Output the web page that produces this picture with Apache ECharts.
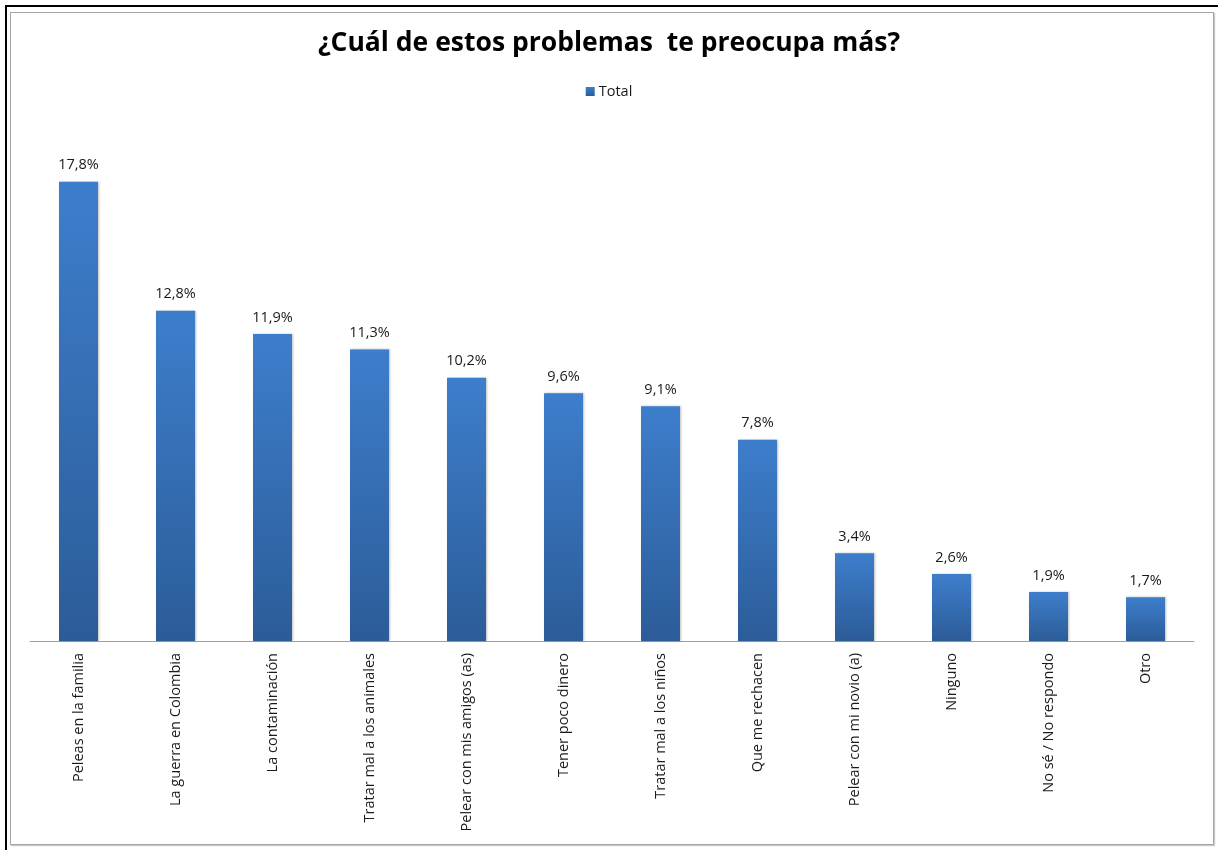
<!DOCTYPE html>
<html>
<head>
<meta charset="utf-8">
<script src="https://cdn.jsdelivr.net/npm/echarts@6/dist/echarts.min.js"></script>
<style>
html,body{margin:0;padding:0;background:#fff;}
#frame{position:absolute;left:5px;top:5px;width:1213px;height:845px;border-left:2px solid #000;border-top:2px solid #000;box-sizing:border-box;}
#inner{position:absolute;left:10px;top:12px;width:1204px;height:833px;border:1px solid #a6a6a6;box-sizing:border-box;box-shadow:1px 1px 1px #c8c8c8;}
#chart{position:absolute;left:0;top:0;width:1218px;height:850px;}
</style>
</head>
<body>
<div id="frame"></div>
<div id="inner"></div>
<div id="chart"></div>
<script>
const titleText = '¿Cuál de estos problemas  te preocupa más?';
const seriesName = 'Total';
const categories = [
  'Peleas en la familia',
  'La guerra en Colombia',
  'La contaminación',
  'Tratar mal a los animales',
  'Pelear con mis amigos (as)',
  'Tener poco dinero',
  'Tratar mal a los niños',
  'Que me rechacen',
  'Pelear con mi novio (a)',
  'Ninguno',
  'No sé / No respondo',
  'Otro'
];
const values = [17.8, 12.8, 11.9, 11.3, 10.2, 9.6, 9.1, 7.8, 3.4, 2.6, 1.9, 1.7];

const chart = echarts.init(document.getElementById('chart'), null, {renderer: 'canvas'});
const font = '"Open Sans", "Noto Sans", sans-serif';
chart.setOption({
  backgroundColor: 'transparent',
  animation: false,
  title: {
    text: titleText,
    left: 'center',
    top: 25,
    textStyle: {fontFamily: font, fontWeight: 'bold', fontSize: 26.5, color: '#000'}
  },
  legend: {
    data: [seriesName],
    top: 79,
    left: 'center',
    itemWidth: 9,
    itemHeight: 9,
    itemGap: 4,
    icon: 'rect',
    textStyle: {fontFamily: font, fontSize: 14.5, color: '#1a1a1a', padding: [0,0,0,-1]}
  },
  grid: {left: 30, right: 24, top: 125, bottom: 209, containLabel: false},
  xAxis: {
    type: 'category',
    data: categories,
    axisLine: {show: true, lineStyle: {color: '#a0a0a0', width: 1}},
    axisTick: {show: false},
    axisLabel: {
      interval: 0,
      rotate: 90,
      margin: 12,
      fontFamily: font,
      fontSize: 14.5,
      color: '#1a1a1a'
    }
  },
  yAxis: {
    type: 'value',
    min: 0,
    max: 20,
    show: false
  },
  series: [{
    name: seriesName,
    type: 'bar',
    data: values,
    barWidth: 39,
    itemStyle: {
      color: new echarts.graphic.LinearGradient(0, 0, 0, 1, [
        {offset: 0, color: '#3d7ecc'},
        {offset: 1, color: '#2c5c98'}
      ]),
      shadowColor: 'rgba(0,0,0,0.25)',
      shadowBlur: 2,
      shadowOffsetX: 1,
      shadowOffsetY: 0
    },
    label: {
      show: true,
      position: 'top',
      distance: 9,
      fontFamily: font,
      fontSize: 14.5,
      color: '#1a1a1a',
      formatter: p => p.value.toFixed(1).replace('.', ',') + '%'
    }
  }]
});
</script>
</body>
</html>
